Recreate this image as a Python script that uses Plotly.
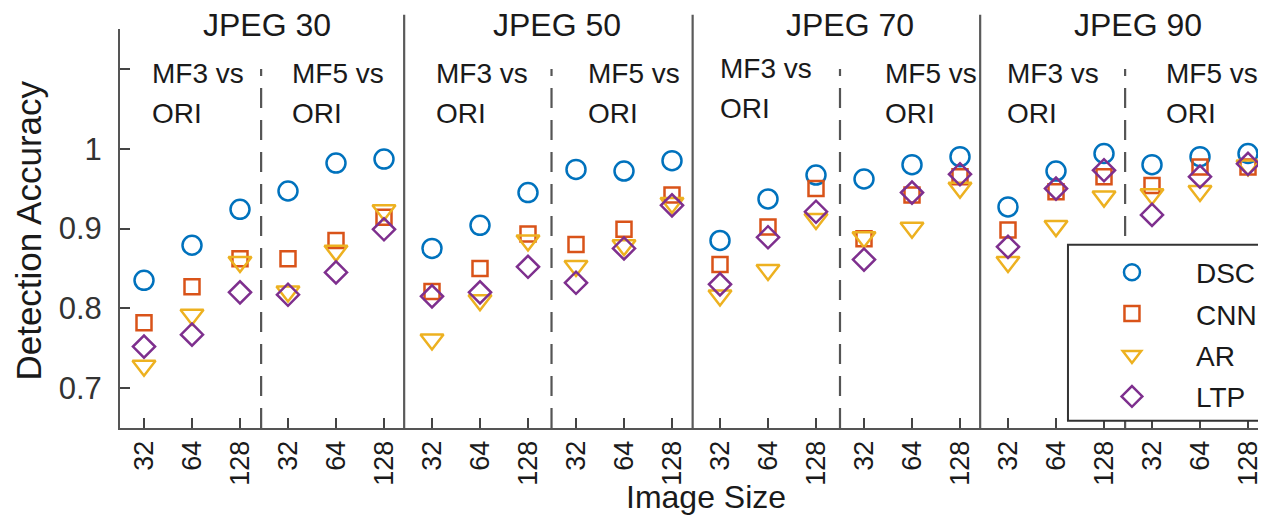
import plotly.graph_objects as go

# ---- data ----
image_sizes = ["32", "64", "128"]
jpeg_levels = ["JPEG 30", "JPEG 50", "JPEG 70", "JPEG 90"]
filters = ["MF3 vs", "MF5 vs"]
x_pos = list(range(1, 25))
tick_labels = image_sizes * 8

DSC = [0.835, 0.879, 0.924, 0.947, 0.982, 0.987,
       0.875, 0.904, 0.945, 0.974, 0.972, 0.985,
       0.885, 0.937, 0.967, 0.962, 0.980, 0.990,
       0.927, 0.972, 0.994, 0.980, 0.990, 0.994]
CNN = [0.782, 0.827, 0.862, 0.862, 0.885, 0.914,
       0.821, 0.850, 0.893, 0.880, 0.899, 0.942,
       0.855, 0.902, 0.950, 0.887, 0.942, 0.965,
       0.898, 0.946, 0.965, 0.954, 0.977, 0.977]
AR = [0.728, 0.792, 0.858, 0.821, 0.872, 0.923,
      0.761, 0.810, 0.885, 0.853, 0.879, 0.932,
      0.816, 0.848, 0.912, 0.889, 0.901, 0.951,
      0.858, 0.903, 0.940, 0.943, 0.947, 0.979]
LTP = [0.752, 0.767, 0.820, 0.817, 0.845, 0.899,
       0.815, 0.820, 0.852, 0.832, 0.875, 0.929,
       0.830, 0.889, 0.921, 0.861, 0.945, 0.968,
       0.877, 0.950, 0.973, 0.917, 0.965, 0.981]

FONT = "Liberation Sans, Arial, Helvetica, sans-serif"
series = [
    ("DSC", DSC, "circle-open", "#0072BD", 19),
    ("CNN", CNN, "square-open", "#D95319", 15),
    ("AR", AR, "triangle-down-open", "#EDB120", 20),
    ("LTP", LTP, "diamond-open", "#7E2F8E", 17),
]

fig = go.Figure()
for name, vals, sym, col, sz in series:
    fig.add_trace(go.Scatter(
        x=x_pos, y=vals, mode="markers", name=name,
        marker=dict(symbol=sym, size=sz, color=col, line=dict(width=2.5, color=col)),
        legendgroup=name,
    ))

# dividers
solid_x = [6.42, 12.43, 18.42]
dashed_x = [3.44, 9.49, 15.5, 21.44]
for xv in solid_x:
    fig.add_shape(type="line", xref="x", yref="paper", x0=xv, x1=xv, y0=0, y1=1.036,
                  line=dict(color="#5a5a5a", width=2.2))
for xv in dashed_x:
    fig.add_shape(type="line", xref="x", yref="y", x0=xv, x1=xv, y0=0.65, y1=1.10,
                  line=dict(color="#555555", width=2.2, dash="20px,12px"))

# legend frame (extends past the right edge, as in the original)
LEG_X, LEG_Y = 0.8272, 0.4594
fig.add_shape(type="rect", xref="paper", yref="paper", x0=LEG_X, x1=1.05, y0=0.0183, y1=LEG_Y,
              line=dict(color="#333333", width=2), fillcolor="white", layer="above")

# group titles
title_x = [3.56, 9.6, 15.7, 21.7]
for t, xv in zip(jpeg_levels, title_x):
    fig.add_annotation(text=t, x=xv, xref="x", y=1.0108, yref="paper", showarrow=False,
                       xanchor="center", yanchor="middle",
                       font=dict(family=FONT, size=32, color="#1a1a1a"))

# sub-group labels
sub_x = [1.12, 4.05, 7.05, 10.2, 12.95, 16.4, 18.93, 22.25]
sub_y1 = [1.094, 1.094, 1.094, 1.094, 1.101, 1.094, 1.094, 1.094]
for i, xv in enumerate(sub_x):
    fig.add_annotation(text=filters[i % 2], x=xv, xref="x", y=sub_y1[i], yref="y",
                       showarrow=False, xanchor="left", yanchor="middle",
                       font=dict(family=FONT, size=28, color="#1a1a1a"))
    fig.add_annotation(text="ORI", x=xv, xref="x", y=sub_y1[i] - 0.05, yref="y",
                       showarrow=False, xanchor="left", yanchor="middle",
                       font=dict(family=FONT, size=28, color="#1a1a1a"))

# axis titles
fig.add_annotation(text="Detection Accuracy", x=-0.0795, xref="paper", y=0.4945, yref="paper",
                   textangle=-90, showarrow=False, xanchor="center", yanchor="middle",
                   font=dict(family=FONT, size=35, color="#1a1a1a"))
fig.add_annotation(text="Image Size", x=0.5113, xref="paper", y=-0.172, yref="paper",
                   showarrow=False, xanchor="center", yanchor="middle",
                   font=dict(family=FONT, size=32, color="#1a1a1a"))

# page body has an 8px margin: shrink figure and margins to compensate
fig.update_layout(
    width=1258, height=507,
    margin=dict(l=112, r=0, t=21, b=87, autoexpand=False),
    paper_bgcolor="white", plot_bgcolor="white",
    font=dict(family=FONT, color="#1a1a1a"),
    showlegend=True,
    legend=dict(
        x=LEG_X, xanchor="left", y=LEG_Y - 0.007, yanchor="top",
        bgcolor="rgba(0,0,0,0)", borderwidth=0,
        font=dict(family=FONT, size=28, color="#1a1a1a"),
        itemwidth=118, tracegroupgap=2,
    ),
)
fig.update_xaxes(
    range=[0.5, 24.375], tickmode="array", tickvals=x_pos, ticktext=tick_labels,
    tickangle=-90, ticks="inside", ticklen=10, tickwidth=1.8, tickcolor="#444444",
    showline=True, linecolor="#555555", linewidth=2, mirror=False,
    showgrid=False, zeroline=False, automargin=False,
    tickfont=dict(family=FONT, size=27, color="#1a1a1a"),
)
fig.update_yaxes(
    range=[0.65, 1.15], tickmode="array", tickvals=[0.7, 0.8, 0.9, 1.0, 1.1],
    ticktext=["0.7", "0.8", "0.9", "1", ""],
    ticks="inside", ticklen=10, tickwidth=1.8, tickcolor="#444444",
    showline=True, linecolor="#555555", linewidth=2, mirror=False,
    showgrid=False, zeroline=False, ticklabelstandoff=10, automargin=False,
    tickfont=dict(family=FONT, size=31, color="#333333"),
)

fig.write_html("out.html")
